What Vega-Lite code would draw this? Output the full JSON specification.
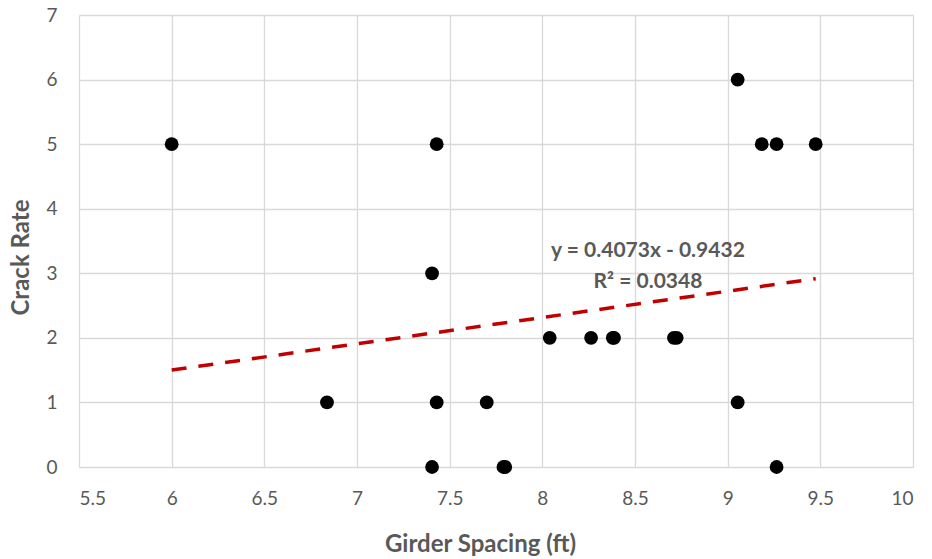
{
  "$schema": "https://vega.github.io/schema/vega-lite/v6.json",
  "autosize": "none",
  "width": 834,
  "height": 452,
  "padding": {"left": 79, "top": 15, "right": 19, "bottom": 92},
  "background": "white",
  "config": {"view": {"stroke": null}, "font": "Lato"},
  "datasets": {
    "points": [
      {"spacing": 6.0, "rate": 5},
      {"spacing": 7.43, "rate": 5},
      {"spacing": 7.405, "rate": 3},
      {"spacing": 6.838, "rate": 1},
      {"spacing": 7.43, "rate": 1},
      {"spacing": 7.70, "rate": 1},
      {"spacing": 7.405, "rate": 0},
      {"spacing": 7.80, "rate": 0},
      {"spacing": 7.79, "rate": 0},
      {"spacing": 8.04, "rate": 2},
      {"spacing": 8.263, "rate": 2},
      {"spacing": 8.387, "rate": 2},
      {"spacing": 8.38, "rate": 2},
      {"spacing": 8.71, "rate": 2},
      {"spacing": 8.725, "rate": 2},
      {"spacing": 9.054, "rate": 6},
      {"spacing": 9.184, "rate": 5},
      {"spacing": 9.264, "rate": 5},
      {"spacing": 9.475, "rate": 5},
      {"spacing": 9.054, "rate": 1},
      {"spacing": 9.264, "rate": 0}
    ],
    "trend": [
      {"spacing": 6.0, "rate": 1.5006},
      {"spacing": 9.475, "rate": 2.9160}
    ],
    "labels": [
      {"spacing": 8.57, "rate": 3.34, "text": "y = 0.4073x - 0.9432"},
      {"spacing": 8.57, "rate": 2.87, "text": "R² = 0.0348"}
    ]
  },
  "layer": [
    {
      "data": {"name": "points"},
      "mark": {"type": "point", "filled": true, "shape": "circle", "size": 190, "color": "#000000", "opacity": 1},
      "encoding": {
        "x": {
          "field": "spacing", "type": "quantitative",
          "scale": {"domain": [5.5, 10], "nice": false, "zero": false},
          "axis": {
            "values": [5.5, 6, 6.5, 7, 7.5, 8, 8.5, 9, 9.5, 10],
            "format": "~g",
            "title": "Girder Spacing (ft)",
            "domain": false, "ticks": false,
            "grid": true, "gridColor": "#D9D9D9", "gridWidth": 1.3,
            "labelFont": "Lato", "labelFontSize": 19, "labelColor": "#595959",
            "labelPadding": 22,
            "titleFont": "Lato", "titleFontSize": 24, "titleFontWeight": "bold", "titleColor": "#595959",
            "titlePadding": 24,
            "titleX": 401
          }
        },
        "y": {
          "field": "rate", "type": "quantitative",
          "scale": {"domain": [0, 7], "nice": false},
          "axis": {
            "values": [0, 1, 2, 3, 4, 5, 6, 7],
            "format": "d",
            "title": "Crack Rate",
            "domain": false, "ticks": false,
            "grid": true, "gridColor": "#D9D9D9", "gridWidth": 1.3,
            "labelFont": "Lato", "labelFontSize": 19, "labelColor": "#595959",
            "labelPadding": 22,
            "titleFont": "Lato", "titleFontSize": 24, "titleFontWeight": "bold", "titleColor": "#595959",
            "titlePadding": 12,
            "titleY": 242
          }
        }
      }
    },
    {
      "data": {"name": "trend"},
      "mark": {"type": "line", "color": "#C00000", "strokeWidth": 3.5, "strokeDash": [15, 12]},
      "encoding": {
        "x": {"field": "spacing", "type": "quantitative"},
        "y": {"field": "rate", "type": "quantitative"}
      }
    },
    {
      "data": {"name": "labels"},
      "mark": {"type": "text", "font": "Lato", "fontSize": 21, "fontWeight": "bold", "color": "#595959", "align": "center", "baseline": "middle"},
      "encoding": {
        "x": {"field": "spacing", "type": "quantitative"},
        "y": {"field": "rate", "type": "quantitative"},
        "text": {"field": "text"}
      }
    }
  ]
}
